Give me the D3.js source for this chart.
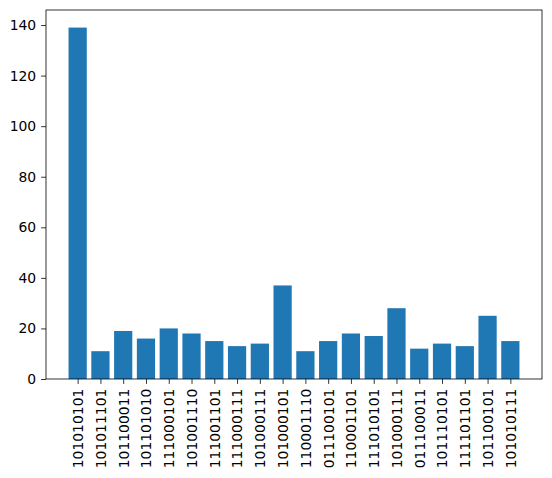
<!DOCTYPE html>
<html>
<head>
<meta charset="utf-8">
<script src="https://cdn.jsdelivr.net/npm/d3@7"></script>
<style>
  body { margin: 0; background: #fff; }
  text { font-family: "DejaVu Sans", sans-serif; }
</style>
</head>
<body>
<div id="chart"></div>
<script>
var categories = ["101010101", "101011101", "101100011", "101101010", "111000101",
  "101001110", "111001101", "111000111", "101000111", "101000101",
  "110001110", "011100101", "110001101", "111010101", "101000111",
  "011100011", "101110101", "111101101", "101100101", "101010111"];
var counts = [139, 11, 19, 16, 20, 18, 15, 13, 14, 37, 11, 15, 18, 17, 28, 12, 14, 13, 25, 15];
var yTicks = [0, 20, 40, 60, 80, 100, 120, 140];

var width = 552, height = 478;
var margin = { top: 10, right: 10, bottom: 99, left: 46 };
var w = width - margin.left - margin.right;
var h = height - margin.top - margin.bottom;

var svg = d3.select("#chart").append("svg")
    .attr("width", width)
    .attr("height", height);

var g = svg.append("g")
    .attr("transform", "translate(" + margin.left + "," + margin.top + ")");

var n = categories.length;
var lo = -0.4, hi = n - 1 + 0.4, pad = (hi - lo) * 0.05;
var x = d3.scaleLinear().domain([lo - pad, hi + pad]).range([0, w]);
var y = d3.scaleLinear().domain([0, d3.max(counts) * 1.05]).range([h, 0]);

g.selectAll("rect.bar")
    .data(counts)
    .enter().append("rect")
    .attr("class", "bar")
    .attr("x", function (d, i) { return x(i - 0.4); })
    .attr("width", function (d, i) { return x(i + 0.4) - x(i - 0.4); })
    .attr("y", function (d) { return y(d); })
    .attr("height", function (d) { return h - y(d); })
    .attr("fill", "#1f77b4");

// x axis
var xAxis = g.append("g")
    .attr("transform", "translate(0," + h + ")")
    .call(d3.axisBottom(x)
        .tickValues(d3.range(n))
        .tickFormat(function (i) { return categories[i]; })
        .tickSize(4.9)
        .tickSizeOuter(0));
xAxis.select(".domain").remove();
xAxis.selectAll("line").attr("stroke", "#000").attr("stroke-width", 0.8);
xAxis.selectAll("text")
    .attr("font-size", "13.9px")
    .attr("fill", "#000")
    .attr("transform", "rotate(-90)")
    .attr("x", -9.7)
    .attr("y", 0)
    .attr("dy", "0.35em")
    .style("text-anchor", "end");

// y axis
var yAxis = g.append("g")
    .call(d3.axisLeft(y)
        .tickValues(yTicks)
        .tickSize(4.9)
        .tickPadding(4.9)
        .tickSizeOuter(0));
yAxis.select(".domain").remove();
yAxis.selectAll("line").attr("stroke", "#000").attr("stroke-width", 0.8);
yAxis.selectAll("text").attr("font-size", "13.9px").attr("fill", "#000");

// frame
g.append("rect")
    .attr("width", w)
    .attr("height", h)
    .attr("fill", "none")
    .attr("stroke", "#000")
    .attr("stroke-width", 0.8);
</script>
</body>
</html>
